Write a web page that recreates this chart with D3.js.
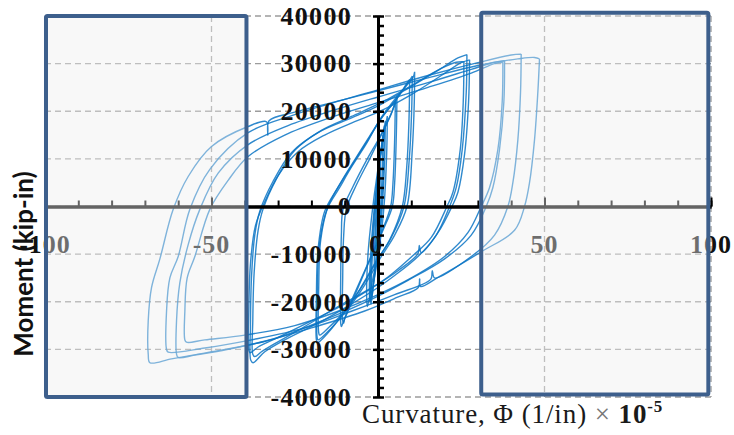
<!DOCTYPE html>
<html><head><meta charset="utf-8">
<script src="https://cdn.jsdelivr.net/npm/d3@7"></script>
<style>html,body{margin:0;padding:0;background:#fff;} svg{display:block;}</style>
</head><body>
<script>
// ---- tick labels ----
const xTickValues = [-100, -50, 0, 50, 100];
const yTickValues = [-40000, -30000, -20000, -10000, 0, 10000, 20000, 30000, 40000];
const xGridValues = [-100, -50, 50, 100];

// ---- hysteresis cycles: [curvature (1/in x 1e-5), moment (kip-in)] ----
const cycleA0 = [[0.5,9000],[0.3,2000],[-0.2,-6000],[-0.6,-10000],[-0.7,-8000],[-0.3,-1000],[0.2,5000],[0.5,9000]];
const cycleA1 = [[0.8,12000],[0.6,4000],[0.1,-4000],[-0.6,-11000],[-1,-14000],[-1.1,-11000],[-0.7,-3000],[0,5000],[0.6,10000],[0.8,12000]];
const cycleA2 = [[1.5,15000],[1.3,8000],[0.8,0],[0,-8000],[-1.2,-15000],[-1.8,-19000],[-2,-17000],[-1.6,-9000],[-0.8,-1000],[0.2,7000],[1,12500],[1.5,15000]];
const cycleA3 = [[2.2,18000],[2,10000],[1.3,0],[0.2,-9000],[-1.3,-16000],[-2.4,-20000],[-2.6,-18000],[-2.2,-10000],[-1.2,-1000],[0,7000],[1.3,13500],[2.2,18000]];
const cycleA4 = [[2.8,19000],[2.6,11000],[1.8,0],[0.5,-8000],[-1.5,-15000],[-3.2,-21000],[-3.4,-19000],[-3,-10000],[-1.8,-1500],[-0.2,7000],[1.5,14000],[2.8,19000]];
const cycleA5 = [[1.9,17000],[1.7,9000],[1.1,500],[0.1,-8500],[-1.4,-16500],[-2.1,-20500],[-2.3,-18500],[-1.9,-9500],[-1,-500],[0.1,7500],[1.2,13000],[1.9,17000]];
const cycleE1 = [[5.7,23100],[5.5,15000],[5,5000],[4.3,0],[1.5,-5000],[-1,-9000],[-3.3,-12600],[-7.5,-19500],[-10.5,-24400],[-11,-25200],[-11.2,-24500],[-11.2,-15000],[-11,-6000],[-10.5,-600],[-7.5,4200],[-3.3,9900],[0.6,14700],[4.5,20400],[5.7,23100]];
const cycleE2 = [[5.2,22000],[5,14000],[4.5,5000],[3.8,0],[1,-5500],[-1.5,-9500],[-4,-13500],[-7.5,-19000],[-10,-23500],[-10.3,-24500],[-10.6,-24000],[-10.6,-15000],[-10.3,-6000],[-9.5,-500],[-6.5,4500],[-2.5,10000],[1,15000],[4,19500],[5.2,22000]];
const cycleB1 = [[11,28300],[10.9,22000],[10.3,12000],[8.7,0],[5,-6000],[1,-10500],[-4,-16500],[-9,-21500],[-14,-25500],[-18,-28000],[-18.3,-27300],[-18.2,-18000],[-17.6,-8000],[-15.3,-600],[-11.5,4000],[-8.4,7800],[-3.3,13400],[0.6,18300],[5.7,23100],[10.5,27100],[11,28300]];
const cycleB2 = [[10.3,27400],[10.1,20000],[9.4,10000],[7.8,0],[4,-6500],[0,-11000],[-5,-17000],[-10,-22000],[-14.5,-25200],[-17.5,-27000],[-17.8,-26500],[-17.8,-17000],[-17.2,-7000],[-15,0],[-10.8,5500],[-7,9800],[-2.5,14800],[1.5,19000],[6,23000],[9.5,26500],[10.3,27400]];
const cycleB3 = [[9.5,26700],[9.3,18000],[8.6,8000],[7.3,0],[3.5,-7000],[-1,-12000],[-6,-18000],[-11,-23000],[-15,-26500],[-18.2,-28600],[-18.5,-28000],[-18.5,-19000],[-18,-9000],[-16,-1000],[-12,4000],[-8,8500],[-3,14000],[1,18500],[5.5,22500],[8.8,26000],[9.5,26700]];
const cycleC1 = [[26.7,31900],[26.5,24000],[25.3,12000],[23.5,4000],[21.5,0],[17.5,-6000],[12,-10500],[5,-14500],[0,-17000],[-8,-20500],[-18,-24500],[-28,-28000],[-34,-30500],[-37.5,-32800],[-38.2,-32300],[-38.3,-25000],[-38,-15000],[-37,-6000],[-35.5,-1000],[-31.5,5300],[-26,11300],[-18,15500],[-9,18300],[0.5,21300],[9.5,25000],[18.5,28800],[24,31200],[26.7,31900]];
const cycleC2 = [[27.5,30800],[27.2,22000],[26,11000],[24,3000],[22.2,0],[18,-5500],[13,-9700],[12.4,-8200],[12,-9900],[6,-13500],[0,-16300],[-10,-20500],[-20,-24000],[-30,-27500],[-36,-29500],[-38.4,-30700],[-38.8,-30200],[-38.8,-22000],[-38.3,-12000],[-36.8,-4000],[-34,1000],[-30,6500],[-24,11500],[-16,15000],[-7,17800],[0,19800],[10,23500],[19,27500],[25,30200],[27.5,30800]];
const cycleC3 = [[25.8,30400],[25.6,22000],[24.7,12000],[22.5,3000],[20.7,0],[16,-6500],[10.5,-10300],[3,-14800],[-3,-17500],[-12,-21000],[-22,-25200],[-31,-28800],[-35,-30500],[-37,-31500],[-37.6,-31000],[-37.6,-24000],[-37.2,-14000],[-36,-5000],[-34.5,-500],[-30.5,5800],[-25,11800],[-17,16000],[-8,18900],[1.5,22000],[10.5,25600],[19,29000],[23.5,30300],[25.8,30400]];
const cycleD1 = [[37.5,30300],[37.3,22000],[36,12000],[33.5,4000],[31,0],[27,-5500],[20,-10500],[10,-15000],[0,-18500],[-12,-22000],[-25,-25000],[-40,-27000],[-52,-28000],[-57.5,-28500],[-58,-28000],[-58,-22000],[-57.3,-15000],[-55,-10500],[-50.5,-600],[-45,5500],[-39,10500],[-28,15000],[-15,18500],[0,21800],[15,25000],[28,28000],[35,30000],[37.5,30300]];
const cycleD2 = [[43,32000],[42.8,24000],[42,14000],[40.5,5000],[39,0],[35,-6000],[28,-10500],[17,-15000],[16.3,-13500],[15.8,-15300],[5,-18500],[-8,-22000],[-22,-25500],[-38,-28000],[-52,-29700],[-63,-30600],[-63.5,-30000],[-63.5,-22000],[-62.5,-15000],[-60,-10500],[-56.5,-600],[-50.5,7800],[-39,15500],[-25,19300],[-10,22500],[0,24500],[15,27500],[30,30200],[40,31800],[43,32000]];
const cycleD3 = [[48.5,31000],[48,24000],[47,14000],[45.5,5000],[44,0],[41,-5000],[31,-9500],[18,-14900],[12.8,-16800],[12.5,-15200],[12.1,-17000],[5.7,-19100],[-4.2,-22000],[-20,-25500],[-35,-28500],[-50,-30500],[-62,-32000],[-68.5,-32800],[-69,-31000],[-69,-24000],[-68,-17000],[-65.5,-11000],[-61.5,-600],[-57,6300],[-50,12600],[-39,16800],[-33.5,17800],[-33.1,15000],[-32.7,18000],[-25,19800],[-10,22500],[0,24300],[15,27000],[30,29600],[42,31000],[47,31300],[48.5,31000]];
const cycleD4 = [[38,30600],[37.8,22000],[36.5,12000],[34.5,4000],[32.5,0],[28,-6000],[20,-11000],[9,-15500],[-2,-19500],[-15,-23500],[-30,-27500],[-45,-30000],[-55,-31200],[-60,-31700],[-60.5,-31000],[-60.5,-24000],[-59.5,-16000],[-57,-8000],[-53.5,-600],[-48,7000],[-39,13000],[-27,17000],[-12,20500],[0,23000],[15,26000],[28,28800],[35,30300],[38,30600]];

const cycles = [cycleA0, cycleA1, cycleA2, cycleA3, cycleA4, cycleA5, cycleE1, cycleE2, cycleB1, cycleB2, cycleB3, cycleC1, cycleC2, cycleC3, cycleD1, cycleD2, cycleD3, cycleD4];

// highlighted curvature ranges (annotation boxes)
const boxRanges = [[-99.7, -39.5, -40000, 40000], [31, 99.2, -39500, 40700]];

const W = 734, H = 435;
const svg = d3.select("body").append("svg").attr("width", W).attr("height", H);

const x = d3.scaleLinear().domain([-100, 100]).range([45, 711]);
const y = d3.scaleLinear().domain([-40000, 40000]).range([397, 16]);

// grid
const grid = svg.append("g");
grid.selectAll("line.h").data(yTickValues).join("line")
  .attr("x1", x(-100)).attr("x2", x(100))
  .attr("y1", d => y(d)).attr("y2", d => y(d))
  .attr("stroke", "#9c9c9c").attr("stroke-width", 1.3).attr("stroke-dasharray", "6,4");
grid.selectAll("line.v").data(xGridValues).join("line")
  .attr("x1", d => x(d)).attr("x2", d => x(d))
  .attr("y1", y(40000)).attr("y2", y(-40000))
  .attr("stroke", "#9c9c9c").attr("stroke-width", 1.3).attr("stroke-dasharray", "6,4");

// curves
const line = d3.line().x(d => x(d[0])).y(d => y(d[1])).curve(d3.curveCatmullRom.alpha(0.5));
svg.append("g").selectAll("path").data(cycles).join("path")
  .attr("d", line)
  .attr("fill", "none").attr("stroke", "#0a74c4").attr("stroke-width", 1.4)
  .attr("stroke-opacity", 0.85);

// x axis
const xAxisG = svg.append("g").attr("transform", `translate(0,${y(0)})`);
xAxisG.call(d3.axisTop(x).tickValues(d3.range(-100, 101, 10)).tickSize(6).tickSizeOuter(0).tickFormat(""));
xAxisG.append("g").call(d3.axisTop(x).tickValues([-100, -50, 50, 100]).tickSize(9).tickSizeOuter(0).tickFormat(""));
xAxisG.selectAll("path.domain").attr("stroke", "#000").attr("stroke-width", 3);
xAxisG.selectAll(".tick line").attr("stroke", "#000").attr("stroke-width", 2);

// y axis
const yAxisG = svg.append("g").attr("transform", `translate(${x(0)},0)`);
yAxisG.call(d3.axisRight(y).tickValues(d3.range(-40000, 40001, 2000)).tickSize(6).tickSizeOuter(0).tickFormat(""));
yAxisG.append("g").call(d3.axisLeft(y).tickValues(yTickValues).tickSize(5).tickSizeOuter(0).tickFormat(""));
yAxisG.selectAll("path.domain").attr("stroke", "#000").attr("stroke-width", 3);
yAxisG.selectAll(".tick line").attr("stroke", "#000").attr("stroke-width", 2.5);

// tick labels
const tickFont = "'Liberation Serif', 'DejaVu Serif', serif";
svg.append("g").selectAll("text").data(xTickValues).join("text")
  .attr("x", d => x(d) - (d === 0 ? 2 : 0)).attr("y", 253)
  .attr("text-anchor", "middle")
  .attr("font-family", tickFont).attr("font-weight", "bold").attr("font-size", 26)
  .attr("letter-spacing", 1)
  .attr("fill", "#111").text(d => d);
svg.append("g").selectAll("text").data(yTickValues).join("text")
  .attr("x", 352).attr("y", d => y(d)).attr("dy", "0.34em")
  .attr("text-anchor", "end")
  .attr("font-family", tickFont).attr("font-weight", "bold").attr("font-size", 26)
  .attr("letter-spacing", 1.3)
  .attr("fill", "#111").text(d => d);

// highlight boxes
svg.append("g").selectAll("rect").data(boxRanges).join("rect")
  .attr("x", d => x(d[0])).attr("y", d => y(d[3]))
  .attr("width", d => x(d[1]) - x(d[0])).attr("height", d => y(d[2]) - y(d[3]))
  .attr("rx", 1.5)
  .attr("fill", "#eeeeee").attr("fill-opacity", 0.42)
  .attr("stroke", "#3d5f8c").attr("stroke-width", 4);

// axis titles
svg.append("text")
  .attr("transform", "translate(23,264) rotate(-90)")
  .attr("text-anchor", "middle").attr("dominant-baseline", "central")
  .attr("font-family", "Lato, 'Open Sans', sans-serif").attr("font-weight", "bold").attr("font-size", 26)
  .attr("fill", "#111").text("Moment (kip-in)");

const xt = svg.append("text").attr("x", 362).attr("y", 423)
  .attr("font-family", tickFont).attr("font-size", 27).attr("letter-spacing", 0.9).attr("fill", "#1a1a1a");
xt.append("tspan").text("Curvature, Φ (1/in) ");
xt.append("tspan").attr("fill", "#777").text("×");
xt.append("tspan").attr("font-weight", "bold").text(" 10");
xt.append("tspan").attr("font-weight", "bold").attr("font-size", 17).attr("dy", -11).text("-5");
</script>
</body></html>
